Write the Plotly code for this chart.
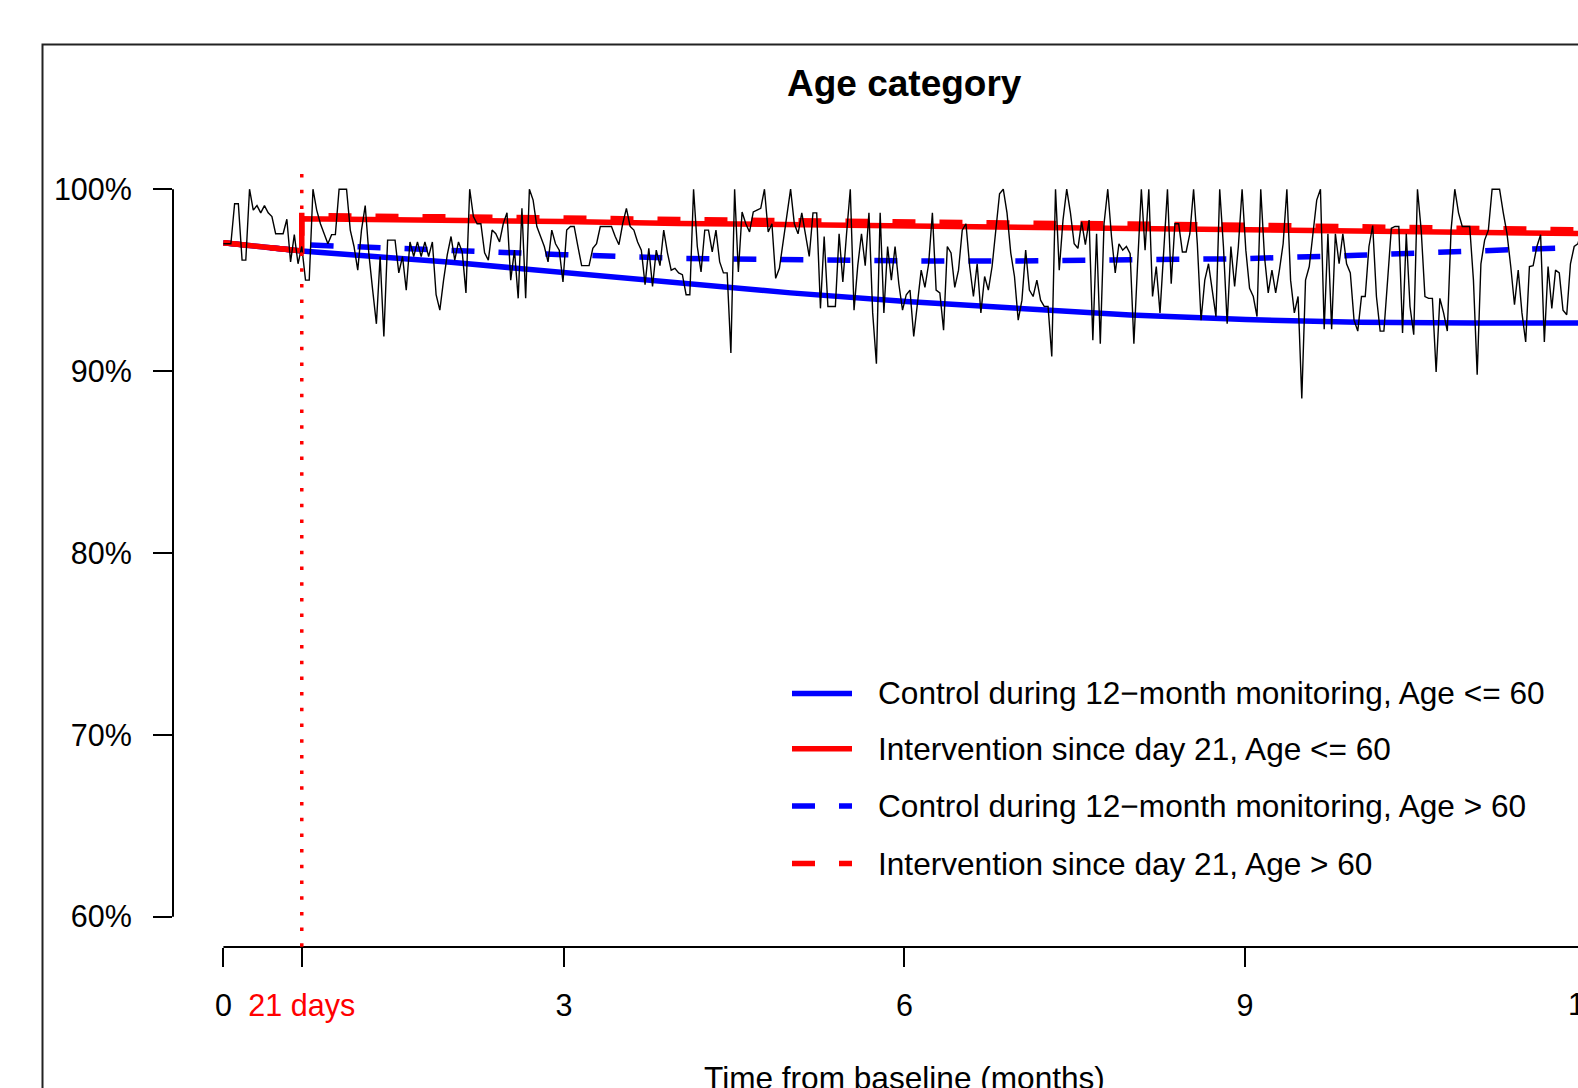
import plotly.graph_objects as go

# ---------------- data ----------------
days = list(range(0, 366))
adherence = [
    97.0, 97.0, 97.0, 99.2, 99.2, 96.1, 96.1, 100, 98.85, 99.1,
    98.7, 99.1, 98.7, 98.5, 97.55, 97.55, 97.55, 98.35, 96.0, 97.5,
    95.9, 96.85, 95.0, 95.0, 100, 98.85, 98.1, 97.55, 97.0, 97.5,
    97.5, 100, 100, 100, 97.75, 96.85, 95.55, 97.75, 99.1, 96.4,
    94.45, 92.6, 96.3, 91.9, 97.2, 97.2, 97.2, 95.4, 96.3, 94.45,
    97.1, 96.3, 97.1, 96.3, 97.1, 96.3, 97.1, 94.2, 93.35, 95.0,
    96.4, 97.4, 96.1, 97.1, 96.55, 94.3, 100, 98.5, 98.1, 98.1,
    96.5, 96.1, 97.75, 97.55, 97.1, 98.1, 98.7, 95.0, 96.65, 94.0,
    98.95, 94.0, 100, 99.4, 97.95, 97.4, 96.85, 96.0, 97.75, 97.0,
    96.65, 94.9, 97.75, 97.95, 97.95, 96.85, 95.8, 95.8, 95.8, 96.75,
    97.0, 97.95, 97.95, 97.95, 97.95, 97.4, 96.95, 98.1, 98.95, 97.95,
    97.75, 97.1, 96.65, 94.75, 96.75, 94.65, 96.65, 95.8, 97.75, 96.5,
    95.55, 95.65, 95.4, 95.3, 94.2, 94.2, 100, 96.85, 95.45, 97.75,
    97.75, 96.55, 97.75, 96.0, 95.4, 95.4, 91.0, 100, 95.45, 98.75,
    98.1, 97.65, 98.75, 98.85, 98.95, 100, 97.65, 98.1, 95.1, 95.65,
    97.2, 98.7, 100, 98.1, 97.55, 98.7, 97.55, 96.3, 98.7, 98.7,
    93.45, 97.4, 93.55, 93.55, 93.55, 97.55, 94.9, 97.55, 100, 93.35,
    95.8, 97.55, 95.8, 98.7, 93.2, 90.4, 98.7, 93.2, 96.85, 95.0,
    96.85, 94.8, 93.35, 94.2, 94.45, 91.9, 93.9, 95.55, 94.6, 95.9,
    98.7, 94.45, 94.3, 92.25, 96.85, 96.5, 94.6, 95.55, 97.75, 98.1,
    95.75, 94.1, 95.9, 93.2, 95.2, 94.45, 95.75, 97.75, 99.75, 100,
    98.7, 96.5, 95.2, 92.8, 93.9, 96.65, 94.45, 94.1, 95.0, 93.9,
    93.55, 93.55, 90.8, 100, 95.55, 98.3, 100, 98.7, 97.0, 96.75,
    98.2, 96.95, 98.3, 91.7, 97.55, 91.5, 98.1, 100, 97.4, 95.4,
    97.0, 96.65, 96.85, 96.45, 91.5, 95.9, 100, 96.65, 100, 94.1,
    95.75, 93.2, 96.65, 100, 94.8, 98.1, 98.1, 96.55, 96.55, 97.55,
    100, 97.0, 92.8, 95.0, 95.9, 94.3, 93.0, 100, 96.85, 92.6,
    96.85, 94.65, 96.85, 100, 96.65, 94.55, 94.1, 93.0, 100, 96.3,
    94.3, 95.55, 94.3, 95.55, 97.0, 100, 95.0, 93.2, 94.1, 88.5,
    95.0, 95.75, 97.55, 99.4, 100, 92.3, 97.55, 92.3, 97.55, 95.9,
    97.55, 95.9, 95.4, 92.8, 92.2, 94.1, 94.1, 96.85, 98.0, 94.1,
    92.2, 92.2, 95.0, 97.85, 97.95, 97.95, 92.1, 97.55, 93.55, 92.0,
    100, 97.75, 94.1, 94.0, 94.0, 89.95, 94.0, 93.2, 92.2, 97.75,
    100, 98.7, 97.95, 97.95, 97.95, 95.0, 89.8, 95.9, 97.2, 97.75,
    100, 100, 100, 98.7, 97.55, 95.75, 93.65, 95.55, 93.2, 91.6,
    95.75, 95.8, 96.85, 97.5, 91.6, 95.75, 93.45, 95.55, 95.4, 93.35,
    93.1, 95.9, 96.85, 97.0, 97.75, 98.3,
]

model_days = [0, 21, 21, 61, 91, 122, 152, 183, 213, 243, 274, 304, 335, 365]
ctrl_le60 = [97.06, 96.6, 96.6, 95.98, 95.42, 94.83, 94.3, 93.82, 93.42, 93.08, 92.83, 92.68, 92.64, 92.65]
int_le60 = [97.06, 96.6, 98.38, 98.32, 98.22, 98.12, 98.05, 97.98, 97.92, 97.86, 97.8, 97.74, 97.65, 97.56]
ctrl_gt60 = [97.06, 96.6, 96.95, 96.6, 96.4, 96.2, 96.1, 96.06, 96.05, 96.08, 96.18, 96.37, 96.6, 96.82]
int_gt60 = [97.06, 96.6, 98.55, 98.5, 98.42, 98.33, 98.25, 98.2, 98.14, 98.08, 98.02, 97.95, 97.86, 97.76]

x_tick_vals = [0, 21, 91.25, 182.5, 273.75]
x_tick_text = ["0", "<span style='color:#FF0000'>21 days</span>", "3", "6", "9"]
y_tick_vals = [60, 70, 80, 90, 100]
y_tick_text = ["60%", "70%", "80%", "90%", "100%"]
intervention_day = 21

legend_labels = [
    "Control during 12\u2212month monitoring, Age <= 60",
    "Intervention since day 21, Age <= 60",
    "Control during 12\u2212month monitoring, Age > 60",
    "Intervention since day 21, Age > 60",
]

# ---------------- layout constants ----------------
W, H = 1578, 1088
L, R, T, B = 173, 1578, 159, 947          # plot area in pixels
FONT = "Liberation Sans, Arial, sans-serif"
FS = 30.5
FS_LEG = 31.6
BLUE, RED = "#0000FF", "#FF0000"
DASH = "23px,24px"


def px(xp):
    return (xp - L) / (R - L)


def py(yp):
    return (B - yp) / (B - T)


fig = go.Figure()

series = [
    (ctrl_le60, BLUE, "solid"),
    (ctrl_gt60, BLUE, DASH),
    (int_le60, RED, "solid"),
    (int_gt60, RED, DASH),
]
for vals, col, dash in series:
    fig.add_trace(go.Scatter(x=model_days, y=vals, mode="lines",
                             line=dict(color=col, width=5.5, dash=dash),
                             showlegend=False, hoverinfo="skip"))

fig.add_trace(go.Scatter(x=days, y=adherence, mode="lines",
                         line=dict(color="black", width=1.4),
                         showlegend=False, hoverinfo="skip"))

shapes = []
# outer frame
shapes.append(dict(type="rect", xref="paper", yref="paper",
                   x0=px(42.5), x1=px(1700), y0=py(1200), y1=py(44.5),
                   line=dict(color="#222222", width=2), fillcolor="rgba(0,0,0,0)",
                   layer="below"))
# y axis line (60% to 100%)
shapes.append(dict(type="line", xref="paper", yref="y", x0=0, x1=0,
                   y0=60, y1=100, line=dict(color="black", width=2)))
# x axis line from 0 to 12 months
shapes.append(dict(type="line", xref="x", yref="paper", x0=0, x1=365,
                   y0=0, y1=0, line=dict(color="black", width=2)))
# red dotted intervention line
shapes.append(dict(type="line", xref="x", yref="paper",
                   x0=intervention_day, x1=intervention_day,
                   y0=py(174), y1=0,
                   line=dict(color=RED, width=3.5, dash="3.5px,12.2px")))

# legend
leg_rows = [693.4, 748.7, 806.1, 863.5]
leg_styles = [(BLUE, "solid"), (RED, "solid"), (BLUE, DASH), (RED, DASH)]
annotations = []
for yrow, (col, dash), lab in zip(leg_rows, leg_styles, legend_labels):
    shapes.append(dict(type="line", xref="paper", yref="paper",
                       x0=px(792), x1=px(852), y0=py(yrow), y1=py(yrow),
                       line=dict(color=col, width=5.5, dash=dash)))
    annotations.append(dict(xref="paper", yref="paper", x=px(876), y=py(yrow),
                            text=lab, showarrow=False, xanchor="left",
                            yanchor="middle",
                            font=dict(family=FONT, size=FS_LEG, color="black")))

# title
annotations.append(dict(xref="x", yref="paper", x=182.5, y=py(83.5),
                        text="<b>Age category</b>", showarrow=False,
                        xanchor="center", yanchor="middle",
                        font=dict(family=FONT, size=37, color="black")))
# x axis title
annotations.append(dict(xref="x", yref="paper", x=182.5, y=py(1078),
                        text="Time from baseline (months)", showarrow=False,
                        xanchor="center", yanchor="middle",
                        font=dict(family=FONT, size=FS_LEG, color="black")))
# the cut-off "12" tick label at the right edge
annotations.append(dict(xref="paper", yref="paper", x=px(1585), y=py(1004),
                        text="12", showarrow=False, xanchor="center",
                        yanchor="middle",
                        font=dict(family=FONT, size=FS, color="black")))

fig.update_layout(
    width=W, height=H, autosize=False,
    margin=dict(l=L, r=W - R, t=T, b=H - B, pad=0),
    paper_bgcolor="white", plot_bgcolor="white",
    shapes=shapes, annotations=annotations,
    showlegend=False,
    font=dict(family=FONT, size=FS, color="black"),
    xaxis=dict(range=[-13.51, 363.02], showgrid=False, zeroline=False,
               showline=False, ticks="outside", ticklen=19, tickwidth=2,
               tickcolor="black", tickmode="array", tickvals=x_tick_vals,
               ticktext=x_tick_text, tickfont=dict(family=FONT, size=FS, color="black"),
               ticklabelstandoff=12),
    yaxis=dict(range=[58.34, 101.66], showgrid=False, zeroline=False,
               showline=False, ticks="outside", ticklen=19, tickwidth=2,
               tickcolor="black", tickmode="array", tickvals=y_tick_vals,
               ticktext=y_tick_text, tickfont=dict(family=FONT, size=FS, color="black"),
               ticklabelstandoff=15),
)

fig.write_html("out.html", config={"displayModeBar": False})
